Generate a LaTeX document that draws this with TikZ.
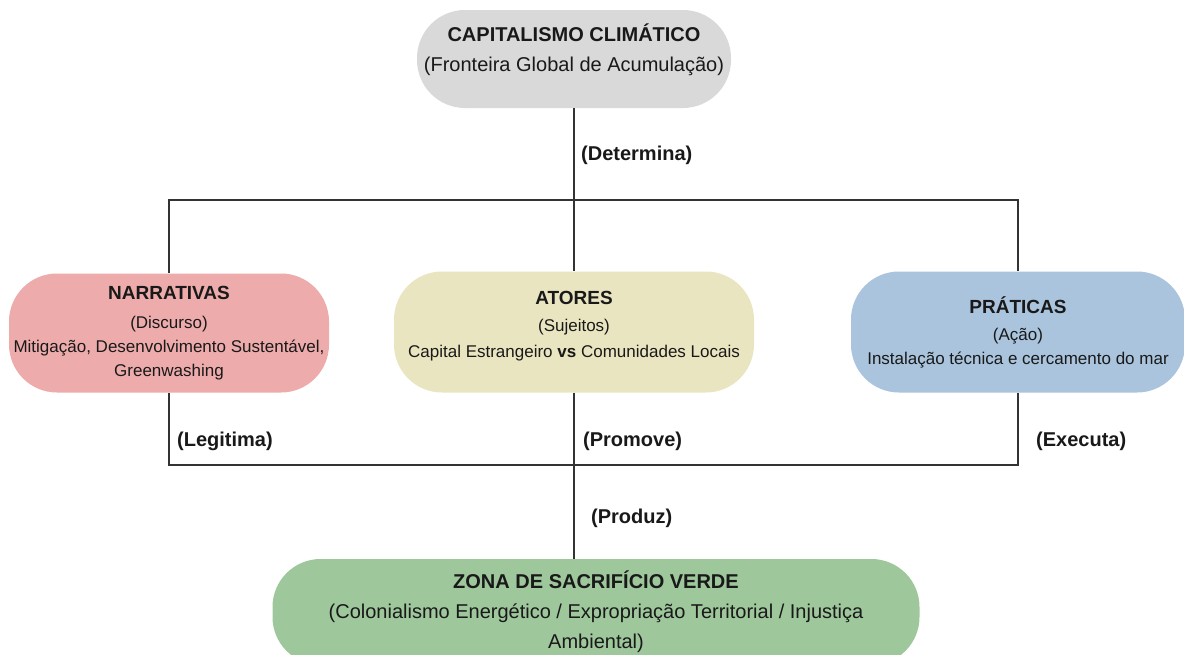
\documentclass[tikz,border=0pt]{standalone}
\usepackage{fontspec}
\setmainfont{Liberation Sans}
\definecolor{capgray}{HTML}{D9D9D9}
\definecolor{narrpink}{HTML}{EEABAB}
\definecolor{atorbeige}{HTML}{EAE5C1}
\definecolor{pratblue}{HTML}{A9C4DC}
\definecolor{zonagreen}{HTML}{9EC89C}

\begin{document}
\begin{tikzpicture}[x=1pt,y=-1pt]
  \useasboundingbox (0,0) rectangle (1184,654);
  \tikzstyle{BoxStyle}=[rectangle,rounded corners=48pt,align=center,inner sep=2pt,text=black!90,font=\fontsize{17}{24}\selectfont]
  \tikzstyle{LabelStyle}=[anchor=west,inner sep=0pt,text=black!90,font=\fontsize{20}{24}\selectfont\bfseries]
  \tikzstyle{EdgeStyle}=[line width=1.5pt,draw=black!80]
  \node[BoxStyle,fill=capgray,minimum width=314pt,minimum height=98pt,font=\fontsize{20}{30}\selectfont] (cap) at (574,59)
    {\textbf{CAPITALISMO CLIMÁTICO}\\(Fronteira Global de Acumulação)\\[-8pt]\mbox{}};
  \node[BoxStyle,fill=narrpink,minimum width=320pt,minimum height=119pt] (narr) at (169,333)
    {{\fontsize{19}{24}\selectfont\bfseries NARRATIVAS}\\[5pt](Discurso)\\Mitigação, Desenvolvimento Sustentável,\\Greenwashing};
  \node[BoxStyle,fill=atorbeige,minimum width=360pt,minimum height=121pt,font=\fontsize{17}{26}\selectfont] (atores) at (574,332)
    {{\fontsize{19}{26}\selectfont\bfseries ATORES}\\[1pt](Sujeitos)\\Capital Estrangeiro \textbf{vs} Comunidades Locais\\[-10pt]\mbox{}};
  \node[BoxStyle,fill=pratblue,minimum width=334pt,minimum height=121pt] (prat) at (1018,332)
    {{\fontsize{19}{24}\selectfont\bfseries PRÁTICAS}\\[3pt](Ação)\\Instalação técnica e cercamento do mar};
  \node[BoxStyle,fill=zonagreen,minimum width=647pt,minimum height=106pt,font=\fontsize{20}{30}\selectfont] (zona) at (596,612)
    {\textbf{ZONA DE SACRIFÍCIO VERDE}\\(Colonialismo Energético / Expropriação Territorial / Injustiça\\Ambiental)};
  \coordinate (up) at (574,200);
  \coordinate (down) at (574,465);
  \draw[EdgeStyle] (cap.south) -- (atores.north);
  \draw[EdgeStyle] (narr.north) -- (narr.north |- up) -- (prat.north |- up) -- (prat.north);
  \draw[EdgeStyle] (narr.south) -- (narr.south |- down) -- (prat.south |- down) -- (prat.south);
  \draw[EdgeStyle] (atores.south) -- (atores.south |- zona.north);
  \node[LabelStyle] (determina) at (581,155) {(Determina)};
  \node[LabelStyle] (legitima) at (177,441) {(Legitima)};
  \node[LabelStyle] (promove) at (583,441) {(Promove)};
  \node[LabelStyle] (executa) at (1036,441) {(Executa)};
  \node[LabelStyle] (produz) at (591,518) {(Produz)};
\end{tikzpicture}
\end{document}
